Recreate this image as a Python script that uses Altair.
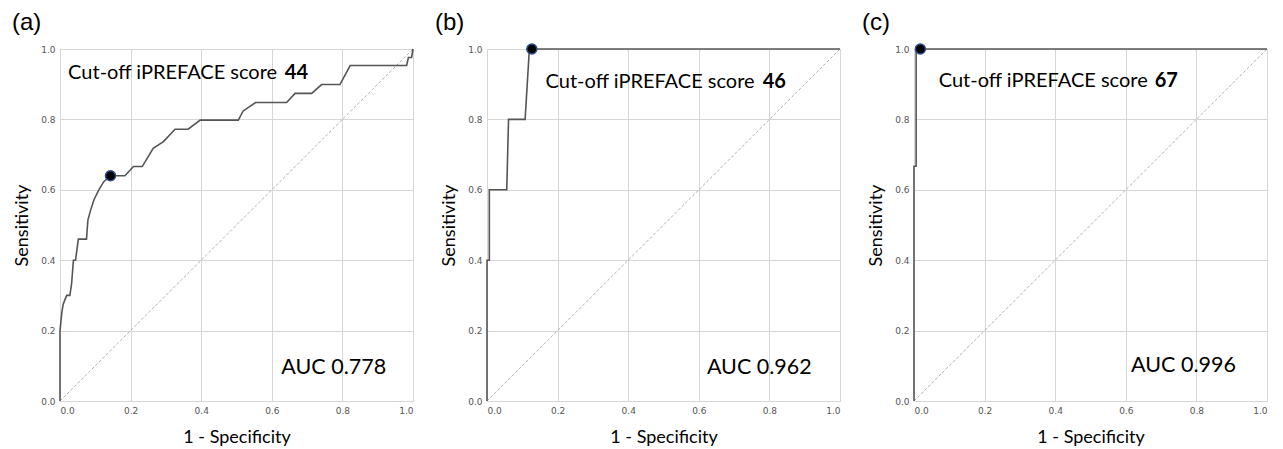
import altair as alt
import pandas as pd

# ---- data ----
a_fpr = [0.0, 0.0, 0.005, 0.009, 0.019, 0.028, 0.033, 0.038, 0.044, 0.052, 0.075, 0.079, 0.087, 0.096,
         0.110, 0.124, 0.143, 0.184, 0.208, 0.233, 0.264, 0.293, 0.326, 0.363, 0.397, 0.505, 0.519,
         0.554, 0.642, 0.666, 0.713, 0.741, 0.793, 0.822, 0.982, 0.987, 0.996, 1.0]
a_tpr = [0.0, 0.20, 0.25, 0.275, 0.30, 0.30, 0.335, 0.40, 0.40, 0.46, 0.46, 0.514, 0.543, 0.571,
         0.60, 0.623, 0.64, 0.64, 0.666, 0.666, 0.718, 0.737, 0.772, 0.772, 0.798, 0.798, 0.824,
         0.848, 0.848, 0.874, 0.874, 0.899, 0.899, 0.953, 0.953, 0.976, 0.976, 1.0]

b_fpr = [0.0, 0.0, 0.0066, 0.0066, 0.056, 0.061, 0.108, 0.120, 1.0]
b_tpr = [0.0, 0.40, 0.40, 0.60, 0.60, 0.80, 0.80, 1.0, 1.0]

c_fpr = [0.0, 0.0, 0.006, 0.006, 1.0]
c_tpr = [0.0, 0.667, 0.667, 1.0, 1.0]

cut_fpr = [0.143, 0.127, 0.018]
cut_tpr = [0.64, 1.0, 1.0]

panel_labels = ["(a)", "(b)", "(c)"]
cutoff_scores = ["44", "46", "67"]
auc_texts = ["AUC 0.778", "AUC 0.962", "AUC 0.996"]

# annotation anchor positions in data units (left edge, vertical centre)
cut_text_x = [0.023, 0.166, 0.070]
cut_text_y = [0.932, 0.906, 0.909]
score_x = [0.637, 0.781, 0.682]
auc_x = [0.627, 0.623, 0.615]
auc_y = [0.094, 0.094, 0.100]
# panel-label offsets from each plot's top-left corner, in pixels
label_dx = [-48, -52, -52]
label_dy = -26

diag_pts = [0.0, 1.0]
ticks = [0.0, 0.2, 0.4, 0.6, 0.8, 1.0]

curves = [(a_fpr, a_tpr), (b_fpr, b_tpr), (c_fpr, c_tpr)]

TEXT_FONT = "Lato"
TEXT_SIZE = 20


def make_axis(title, title_pad):
    return alt.Axis(
        title=title, values=ticks, format=".1f", grid=True, gridColor="#d6d6d6", gridWidth=1,
        ticks=False, tickSize=0, domain=False, labelFont="DejaVu Sans", labelFontSize=9,
        labelColor="#555555", labelPadding=5, titleFont="Lato", titleFontSize=18,
        titleFontWeight="normal", titleColor="#000000", titlePadding=title_pad,
    )


def panel(i):
    fpr, tpr = curves[i]
    df = pd.DataFrame({"fpr": fpr, "tpr": tpr, "i": list(range(len(fpr)))})
    xs = alt.Scale(domain=[0, 1], nice=False, zero=False)
    ys = alt.Scale(domain=[0, 1], nice=False, zero=False)
    X = alt.X("fpr:Q", scale=xs, axis=make_axis("1 - Specificity", 13))
    Y = alt.Y("tpr:Q", scale=ys, axis=make_axis("Sensitivity", 9))

    diag = alt.Chart(pd.DataFrame({"fpr": diag_pts, "tpr": diag_pts})).mark_line(
        color="#a8a8a8", strokeWidth=0.9, strokeDash=[3, 2]
    ).encode(x=X, y=Y)
    curve = alt.Chart(df).mark_line(color="#555555", strokeWidth=1.6).encode(
        x=X, y=Y, order="i:Q")
    dot = alt.Chart(pd.DataFrame({"fpr": [cut_fpr[i]], "tpr": [cut_tpr[i]]})).mark_point(
        filled=True, fill="#000000", stroke="#2b4d8c", strokeWidth=1.5, size=100, opacity=1
    ).encode(x=X, y=Y)

    ann = pd.DataFrame({
        "fpr": [cut_text_x[i]], "tpr": [cut_text_y[i]], "t": ["Cut-off iPREFACE score"],
    })
    t1 = alt.Chart(ann).mark_text(align="left", baseline="middle", font=TEXT_FONT,
                                  fontSize=TEXT_SIZE, color="#000000").encode(x=X, y=Y, text="t:N")
    sc = pd.DataFrame({"fpr": [score_x[i]], "tpr": [cut_text_y[i]], "t": [cutoff_scores[i]]})
    t2 = alt.Chart(sc).mark_text(align="left", baseline="middle", font=TEXT_FONT,
                                 fontSize=TEXT_SIZE, fontWeight="bold", color="#000000").encode(
        x=X, y=Y, text="t:N")
    au = pd.DataFrame({"fpr": [auc_x[i]], "tpr": [auc_y[i]], "t": [auc_texts[i]]})
    t3 = alt.Chart(au).mark_text(align="left", baseline="middle", font=TEXT_FONT,
                                 fontSize=21.5, color="#000000").encode(x=X, y=Y, text="t:N")
    lab = alt.Chart(pd.DataFrame({"t": [panel_labels[i]]})).mark_text(
        align="left", baseline="middle", font="Liberation Sans", fontSize=24, color="#000000"
    ).encode(x=alt.value(label_dx[i]), y=alt.value(label_dy), text="t:N")

    return alt.layer(diag, curve, dot, t1, t2, t3, lab).properties(width=353, height=352)


chart = alt.hconcat(panel(0), panel(1), panel(2), spacing=74, bounds="flush").properties(
    padding={"left": 3, "top": 2, "right": 4, "bottom": 2}
).configure_view(stroke="#c8c8c8", strokeWidth=1)

chart.save("out.html", embed_options={"renderer": "svg", "actions": False})
